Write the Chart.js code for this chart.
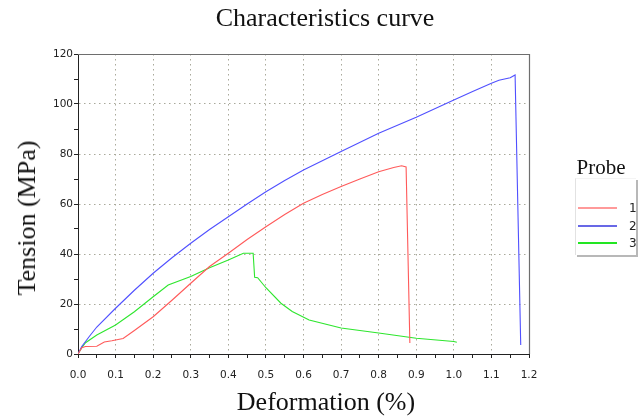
<!DOCTYPE html>
<html>
<head>
<meta charset="utf-8">
<script src="https://cdn.jsdelivr.net/npm/chart.js@4/dist/chart.umd.min.js"></script>
<style>
  html, body { margin: 0; padding: 0; background: #fff; }
  #wrap { position: relative; width: 642px; height: 418px; overflow: hidden; }
  #grafico { position: absolute; left: 0; top: 0; }
  .serif { position: absolute; font-family: 'Liberation Serif', 'DejaVu Serif', serif; color: #111; white-space: nowrap; }
  #titulo { left: 325px; top: 18px; font-size: 26px; transform: translate(-50%, -50%); }
  #tituloX { left: 326px; top: 402px; font-size: 26px; transform: translate(-50%, -50%); }
  #tituloY { left: 27px; top: 218px; font-size: 26px; transform: translate(-50%, -50%) rotate(-90deg); }
  #legendaTitulo { left: 601px; top: 167px; font-size: 21px; transform: translate(-50%, -50%); }
  #legenda { position: absolute; left: 575px; top: 178px; width: 60px; height: 76px;
    border-left: 1px solid #e2e2e2; border-top: 1px solid #f4f4f4;
    box-shadow: 2px 2px 0 #b8b8b8; background: #fff; }
  .item { position: absolute; left: 2px; width: 58px; height: 12px; }
  .item .traco { position: absolute; left: 0; top: 5px; width: 39px; height: 2px; }
  .item .nome { position: absolute; left: 51px; top: -1px; font: 12px 'DejaVu Sans', sans-serif; color: #222; }
</style>
</head>
<body>
<div id="wrap">
  <canvas id="grafico" width="642" height="418"></canvas>
  <div id="titulo" class="serif">Characteristics curve</div>
  <div id="tituloX" class="serif">Deformation (%)</div>
  <div id="tituloY" class="serif">Tension (MPa)</div>
  <div id="legendaTitulo" class="serif">Probe</div>
  <div id="legenda"></div>
</div>
<script>
  // valores
  const probeNames = ['1', '2', '3'];
  const probeColors = ['#ff5a5a', '#5050ff', '#2ee62e'];
  const legendColors = ['#ff9a9a', '#6868e6', '#22e622'];

  const probe1X = [0, 0.01, 0.02, 0.05, 0.07, 0.09, 0.12, 0.15, 0.2, 0.25, 0.3, 0.35, 0.4, 0.45, 0.5, 0.55, 0.6, 0.65, 0.7, 0.75, 0.8, 0.84, 0.861, 0.873, 0.883];
  const probe1Y = [0, 2.5, 3.0, 3.1, 4.8, 5.3, 6.2, 9.4, 14.9, 21.5, 28.3, 35.0, 40.3, 45.8, 50.9, 55.8, 60.3, 63.8, 67.0, 70.0, 72.9, 74.6, 75.3, 74.8, 4.4];

  const probe2X = [0, 0.01, 0.02, 0.03, 0.05, 0.1, 0.15, 0.2, 0.25, 0.3, 0.35, 0.4, 0.45, 0.5, 0.55, 0.6, 0.7, 0.8, 0.9, 1.0, 1.05, 1.1, 1.12, 1.15, 1.163, 1.178];
  const probe2Y = [0, 3.0, 5.0, 7.0, 10.8, 18.3, 25.5, 32.3, 38.5, 44.3, 49.8, 54.9, 60.0, 64.9, 69.4, 73.6, 81.0, 88.3, 94.7, 101.6, 105.0, 108.3, 109.5, 110.5, 111.6, 3.6];

  const probe3X = [0, 0.01, 0.02, 0.05, 0.1, 0.15, 0.2, 0.24, 0.3, 0.35, 0.4, 0.44, 0.466, 0.47, 0.478, 0.5, 0.54, 0.57, 0.615, 0.7, 0.8, 0.9, 1.0, 1.008];
  const probe3Y = [0, 2.5, 4.5, 7.6, 11.6, 16.9, 22.9, 27.6, 31.0, 34.5, 37.6, 40.3, 40.3, 30.7, 30.5, 26.5, 20.3, 17.0, 13.6, 10.4, 8.4, 6.3, 5.0, 4.7];

  const xMin = 0, xMax = 1.2, xStep = 0.05;   // rótulos a cada 0.1
  const yMin = 0, yMax = 120, yStep = 10;      // rótulos a cada 20

  const FONTE_TICK = { family: "'DejaVu Sans', sans-serif", size: 10.5 };
  const COR_GRADE = '#a9a99b';

  function pares(xs, ys) { return xs.map(function (x, i) { return { x: x, y: ys[i] }; }); }

  const seriesX = [probe1X, probe2X, probe3X];
  const seriesY = [probe1Y, probe2Y, probe3Y];

  function xMaior(v) { return Math.round(v * 100) % 10 === 0; }
  function yMaior(v) { return Math.round(v) % 20 === 0; }

  // moldura cinza em volta da área do gráfico (topo e direita)
  const moldura = {
    id: 'moldura',
    afterDraw: function (chart) {
      const a = chart.chartArea, ctx = chart.ctx;
      ctx.save();
      ctx.strokeStyle = '#6e6e6e';
      ctx.lineWidth = 1.2;
      ctx.beginPath();
      ctx.moveTo(a.left, a.top + 0.5);
      ctx.lineTo(a.right + 0.5, a.top + 0.5);
      ctx.lineTo(a.right + 0.5, a.bottom);
      ctx.stroke();
      ctx.restore();
    }
  };

  new Chart(document.getElementById('grafico'), {
    type: 'scatter',
    data: {
      datasets: probeNames.map(function (nome, i) {
        return {
          label: nome,
          data: pares(seriesX[i], seriesY[i]),
          showLine: true,
          borderColor: probeColors[i],
          backgroundColor: probeColors[i],
          borderWidth: 1.1,
          pointRadius: 0,
          tension: 0
        };
      })
    },
    options: {
      responsive: false,
      animation: false,
      layout: { padding: { top: 54, right: 113, left: 0, bottom: 0 } },
      plugins: { legend: { display: false }, tooltip: { enabled: false }, title: { display: false } },
      scales: {
        x: {
          type: 'linear', min: xMin, max: xMax,
          afterFit: function (s) { s.height = 64; },
          ticks: {
            stepSize: xStep, autoSkip: false, maxRotation: 0, padding: 11,
            color: '#222', font: FONTE_TICK,
            callback: function (v) { return xMaior(v) ? (Math.round(v * 10) / 10).toFixed(1) : ''; }
          },
          grid: {
            color: function (c) { return c.tick && xMaior(c.tick.value) ? COR_GRADE : 'rgba(0,0,0,0)'; },
            tickColor: '#222', tickLength: 4, lineWidth: 1
          },
          border: { display: true, color: '#222', width: 1, dash: [1.5, 3.5] }
        },
        y: {
          type: 'linear', min: yMin, max: yMax,
          afterFit: function (s) { s.width = 78; },
          ticks: {
            stepSize: yStep, autoSkip: false, padding: 1,
            color: '#222', font: FONTE_TICK,
            callback: function (v) { return yMaior(v) ? String(Math.round(v)) : ''; }
          },
          grid: {
            color: function (c) { return c.tick && yMaior(c.tick.value) ? COR_GRADE : 'rgba(0,0,0,0)'; },
            tickColor: '#222', tickLength: 4, lineWidth: 1
          },
          border: { display: true, color: '#222', width: 1, dash: [1.5, 3.5] }
        }
      }
    },
    plugins: [moldura]
  });

  // legenda HTML
  const legenda = document.getElementById('legenda');
  probeNames.forEach(function (nome, i) {
    const item = document.createElement('div');
    item.className = 'item';
    item.style.top = (23 + i * 17.5) + 'px';
    item.innerHTML = '<div class="traco" style="background:' + legendColors[i] + '"></div><div class="nome">' + nome + '</div>';
    legenda.appendChild(item);
  });
</script>
</body>
</html>
